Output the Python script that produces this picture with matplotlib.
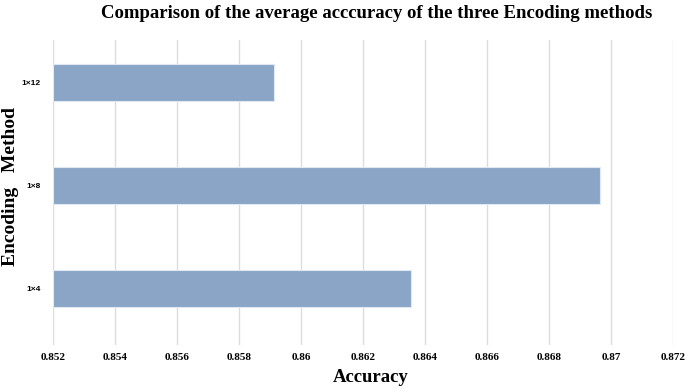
import matplotlib
matplotlib.use("Agg")
import matplotlib.pyplot as plt

categories = ["1×4", "1×8", "1×12"]
accuracy = [0.86355, 0.86965, 0.85913]
xticks = [0.852, 0.854, 0.856, 0.858, 0.86, 0.862, 0.864, 0.866, 0.868, 0.87, 0.872]
xtick_labels = ["0.852", "0.854", "0.856", "0.858", "0.86", "0.862", "0.864", "0.866", "0.868", "0.87", "0.872"]

fig = plt.figure(figsize=(6.85, 3.9), dpi=100)
ax = fig.add_axes([53/685, 1-345/390, (673-53)/685, (345-40)/390])

ypos = list(range(len(categories)))
base = 0.852
ax.barh(ypos, [a - base for a in accuracy], left=base, height=0.36,
        color="#8aa5c6", edgecolor="#dfe8f3", linewidth=0.8, zorder=3)

ax.set_xlim(0.852, 0.872)
ax.set_ylim(-0.55, 2.41)
ax.set_xticks(xticks)
ax.set_xticklabels(xtick_labels, fontfamily="Liberation Serif", fontweight="bold", fontsize=8)
ax.set_yticks(ypos)
ax.set_yticklabels(categories, fontfamily="Liberation Sans", fontweight="bold", fontsize=6)
ax.tick_params(axis="both", length=0)
ax.tick_params(axis="x", pad=6)
ax.tick_params(axis="y", pad=9)
ax.grid(axis="x", color="#dddddd", linewidth=1.0, zorder=0)
for s in ax.spines.values():
    s.set_visible(False)

fig.text(371/685, 1-378/390, "Accuracy", ha="center", va="center",
         fontfamily="Liberation Serif", fontweight="bold", fontsize=13.5)
fig.text(11/685, 1-187/390, "Encoding   Method", ha="center", va="center", rotation=90,
         fontfamily="Liberation Serif", fontweight="bold", fontsize=14)
fig.text(377/685, 1-13/390, "Comparison of the average acccuracy of the three Encoding methods",
         ha="center", va="center", fontfamily="Liberation Serif", fontweight="bold", fontsize=13.5)

fig.savefig("out.png", dpi=100)
